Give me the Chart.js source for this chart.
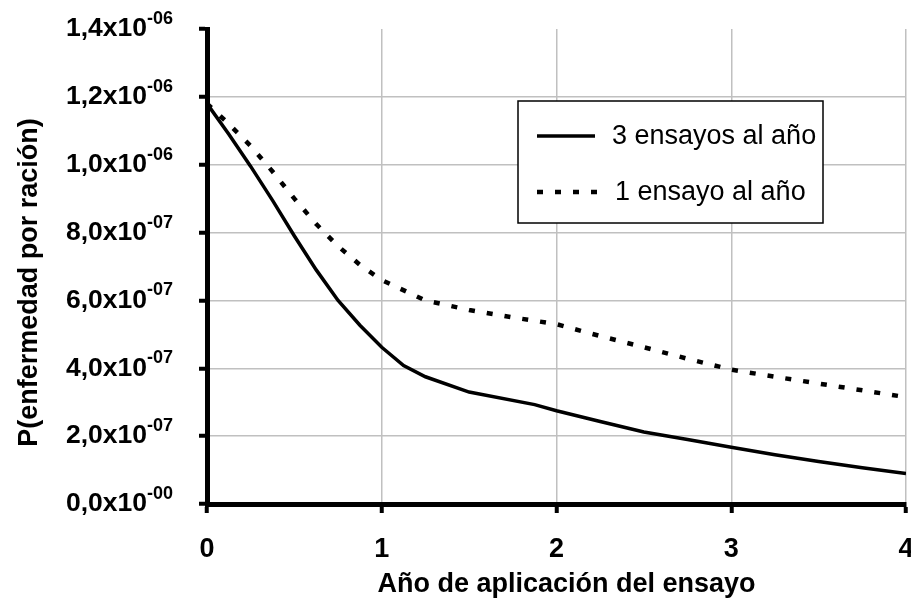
<!DOCTYPE html>
<html><head><meta charset="utf-8">
<script src="https://cdn.jsdelivr.net/npm/chart.js@4.4.0/dist/chart.umd.min.js"></script>
<style>html,body{margin:0;padding:0;background:#fff;overflow:hidden}</style>
</head><body>
<canvas id="c" width="911" height="599"></canvas>
<script>
const FONT = "'Liberation Sans', Arial, sans-serif";

const seriesLabels = ['3 ensayos al año', '1 ensayo al año'];
const yearsSolid = [0, 0.125, 0.25, 0.375, 0.5, 0.625, 0.75, 0.875, 1, 1.125, 1.25, 1.5, 1.875, 2, 2.25, 2.5, 2.75, 3, 3.25, 3.5, 3.75, 4];
const solidValues = [1.18e-6, 1.09e-6, 0.995e-6, 0.895e-6, 0.79e-6, 0.69e-6, 0.60e-6, 0.527e-6, 0.462e-6, 0.408e-6, 0.375e-6, 0.33e-6, 0.293e-6, 0.275e-6, 0.243e-6, 0.212e-6, 0.19e-6, 0.167e-6, 0.145e-6, 0.125e-6, 0.107e-6, 0.09e-6];
const yearsDashed = [0, 0.125, 0.25, 0.375, 0.5, 0.625, 0.75, 0.875, 1, 1.25, 1.5, 1.75, 2, 2.25, 2.5, 2.75, 3, 3.25, 3.5, 3.75, 4];
const dashedValues = [1.18e-6, 1.12e-6, 1.055e-6, 0.98e-6, 0.90e-6, 0.825e-6, 0.76e-6, 0.705e-6, 0.66e-6, 0.60e-6, 0.572e-6, 0.55e-6, 0.53e-6, 0.495e-6, 0.462e-6, 0.428e-6, 0.396e-6, 0.375e-6, 0.355e-6, 0.335e-6, 0.315e-6];

const xTickLabels = ['0', '1', '2', '3', '4'];
const yTickValues = [0, 2e-7, 4e-7, 6e-7, 8e-7, 1.0e-6, 1.2e-6, 1.4e-6];
const yTickBase = ['0,0x10', '2,0x10', '4,0x10', '6,0x10', '8,0x10', '1,0x10', '1,2x10', '1,4x10'];
const yTickExp = ['-00', '-07', '-07', '-07', '-07', '-06', '-06', '-06'];
const xTitle = 'Año de aplicación del ensayo';
const yTitle = 'P(enfermedad por ración)';

const toPoints = (xs, ys) => xs.map((x, i) => ({x: x, y: ys[i]}));

const textPlugin = {
  id: 'customTexts',
  afterDraw(chart) {
    const {ctx, chartArea: a, scales} = chart;
    const ys = scales.y;
    ctx.save();
    ctx.fillStyle = '#000';
    // y tick labels with superscript exponents
    yTickValues.forEach((v, i) => {
      const py = ys.getPixelForValue(v);
      const right = a.left - 34;
      ctx.font = 'bold 18px ' + FONT;
      const ew = ctx.measureText(yTickExp[i]).width;
      ctx.textAlign = 'left';
      ctx.textBaseline = 'middle';
      ctx.fillText(yTickExp[i], right - ew, py - 10);
      ctx.font = 'bold 26.5px ' + FONT;
      ctx.textAlign = 'right';
      ctx.fillText(yTickBase[i], right - ew, py);
    });
    // axis titles
    ctx.font = 'bold 27px ' + FONT;
    ctx.textAlign = 'center';
    ctx.textBaseline = 'middle';
    ctx.fillText(xTitle, (a.left + a.right) / 2 + 10, a.bottom + 81);
    ctx.save();
    ctx.translate(a.left - 177, (a.top + a.bottom) / 2 + 16);
    ctx.rotate(-Math.PI / 2);
    ctx.fillText(yTitle, 0, 0);
    ctx.restore();
    // legend box
    const bx = a.left + 311, by = a.top + 72, bw = 305, bh = 122;
    ctx.fillStyle = '#fff';
    ctx.fillRect(bx, by, bw, bh);
    ctx.strokeStyle = '#000';
    ctx.lineWidth = 1.5;
    ctx.strokeRect(bx, by, bw, bh);
    const rows = [
      {y: by + 35, x0: bx + 19, x1: bx + 77, tx: bx + 94},
      {y: by + 91, x0: bx + 19, x1: bx + 90, tx: bx + 97}
    ];
    chart.data.datasets.forEach((ds, i) => {
      const r = rows[i];
      ctx.save();
      ctx.strokeStyle = ds.borderColor;
      ctx.lineWidth = ds.borderWidth;
      ctx.lineCap = 'butt';
      ctx.setLineDash(ds.borderDash || []);
      ctx.beginPath();
      ctx.moveTo(r.x0, r.y);
      ctx.lineTo(r.x1, r.y);
      ctx.stroke();
      ctx.restore();
      ctx.fillStyle = '#000';
      ctx.font = '27px ' + FONT;
      ctx.textAlign = 'left';
      ctx.textBaseline = 'middle';
      ctx.fillText(ds.label, r.tx, r.y + 1);
    });
    ctx.restore();
  }
};

new Chart(document.getElementById('c'), {
  type: 'line',
  data: {
    datasets: [
      {
        label: seriesLabels[0],
        data: toPoints(yearsSolid, solidValues),
        borderColor: '#000',
        borderWidth: 3.5,
        pointRadius: 0,
        tension: 0,
        fill: false
      },
      {
        label: seriesLabels[1],
        data: toPoints(yearsDashed, dashedValues),
        borderColor: '#000',
        borderWidth: 4.5,
        borderDash: [6, 12],
        borderCapStyle: 'butt',
        pointRadius: 0,
        tension: 0,
        fill: false
      }
    ]
  },
  options: {
    responsive: false,
    animation: false,
    devicePixelRatio: 1,
    layout: {padding: {top: 29, right: 5, bottom: 0, left: 0}},
    plugins: {legend: {display: false}, tooltip: {enabled: false}},
    scales: {
      x: {
        type: 'linear',
        min: 0, max: 4,
        afterFit: (s) => { s.height = 95; s.paddingLeft = 0; s.paddingRight = 0; },
        afterBuildTicks: (s) => { s.ticks = xTickLabels.map((t) => ({value: Number(t)})); },
        ticks: {
          callback: (v, i) => xTickLabels[i],
          font: {family: FONT, size: 27, weight: 'bold'},
          color: '#000',
          padding: 20,
          maxRotation: 0
        },
        grid: {color: '#c0c0c0', lineWidth: 1.5, tickColor: '#000', tickLength: 9, tickWidth: 4},
        border: {color: '#000', width: 5}
      },
      y: {
        type: 'linear',
        min: 0, max: 1.4e-6,
        afterFit: (s) => { s.width = 207; s.paddingTop = 0; s.paddingBottom = 0; },
        afterBuildTicks: (s) => { s.ticks = yTickValues.map((v) => ({value: v})); },
        ticks: {display: false},
        grid: {
          color: (c) => (c.tick && c.tick.value >= 1.4e-6 - 1e-12) ? 'rgba(0,0,0,0)' : '#c0c0c0',
          lineWidth: 1.5, tickColor: '#000', tickLength: 8, tickWidth: 4
        },
        border: {color: '#000', width: 5}
      }
    }
  },
  plugins: [textPlugin]
});
</script>
</body></html>
